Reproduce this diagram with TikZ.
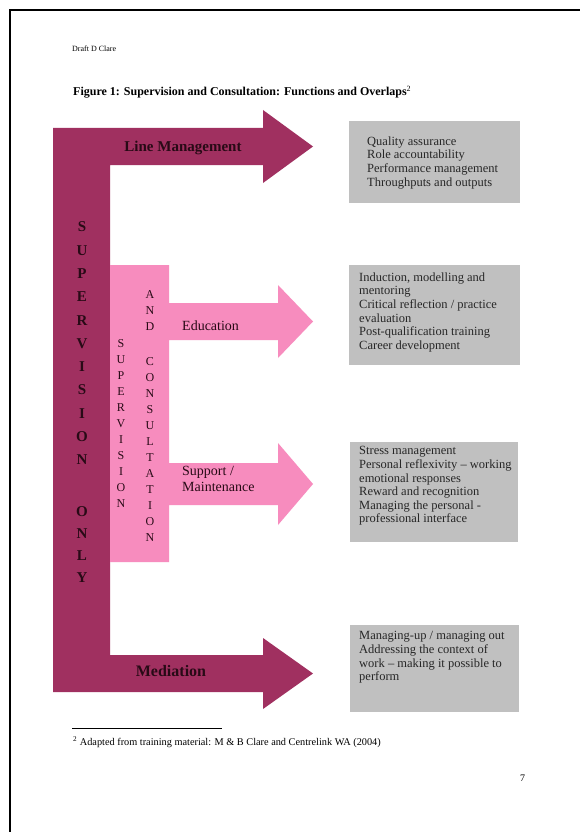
\documentclass[tikz,border=0pt]{standalone}
\usepackage{fontspec}
\setmainfont{Liberation Serif}
\definecolor{supmaroon}{RGB}{160,48,96}
\definecolor{suppink}{RGB}{247,140,190}
\definecolor{boxgray}{RGB}{192,192,192}
\definecolor{lettercol}{RGB}{40,10,22}
\begin{document}
\begin{tikzpicture}[x=1pt,y=-1pt,
  boxtext/.style={anchor=north west, inner sep=0pt, align=left, font=\fontsize{12.5}{13.6}\selectfont, text=black!85},
  graybox/.style={fill=boxgray, draw=none},
  bigletter/.style={font=\bfseries\fontsize{15}{15}\selectfont, text=lettercol, inner sep=0pt},
  smallletter/.style={font=\fontsize{12}{12}\selectfont, text=lettercol, inner sep=0pt},
  armlabel/.style={font=\fontsize{14}{16}\selectfont, text=lettercol, inner sep=0pt, align=left},
  boldlabel/.style={font=\bfseries\fontsize{15}{16}\selectfont, text=lettercol, inner sep=0pt}]
\useasboundingbox (0,0) rectangle (580,832);
\fill[white] (0,0) rectangle (580,832);
% page frame
\draw[line width=2pt] (10,832) -- (10,10) -- (580,10);

% header
\node[anchor=base west, inner sep=0pt, font=\fontsize{8}{9}\selectfont] (draft) at (72,52) {Draft D Clare};
\node[anchor=base west, inner sep=0pt, font=\bfseries\fontsize{12}{14}\selectfont] (title) at (73,96)
  {Figure 1: Supervision and Consultation: Functions and Overlaps\textsuperscript{\normalfont 2}};

% maroon L-shaped arrows (supervision only)
\fill[supmaroon] (53,128) -- (263,128) -- (263,110) -- (313,146.5) -- (263,183) -- (263,165)
  -- (110,165) -- (110,655) -- (263,655) -- (263,638) -- (313,673.5) -- (263,709) -- (263,692)
  -- (53,692) -- cycle;

% pink block with arrows (supervision and consultation)
\fill[suppink] (110,265) -- (169,265) -- (169,303) -- (278,303) -- (278,285) -- (313,321.5)
  -- (278,358) -- (278,340) -- (169,340) -- (169,463) -- (278,463) -- (278,443) -- (313,484)
  -- (278,525) -- (278,505) -- (169,505) -- (169,562) -- (110,562) -- cycle;

% arrow labels
\node[boldlabel] (lm) at (183,148) {Line Management};
\node[boldlabel, font=\bfseries\fontsize{16}{16}\selectfont] (med) at (171,671) {Mediation};
\node[armlabel, anchor=base west] (edu) at (182,330) {Education};
\node[armlabel, anchor=north west] (sup) at (182,466) {Support /\\Maintenance};

% vertical letters
\foreach \l/\yy [count=\i] in {S/227,U/250.3,P/273.6,E/296.9,R/320.2,V/343.5,I/366.8,S/390.1,I/413.4,O/436.7,N/460,O/512,N/534,L/556,Y/578}
  \node[bigletter] (so\i) at (82,\yy) {\l};
\foreach \l/\yy [count=\i] in {S/344,U/360,P/376,E/392,R/408,V/424,I/440,S/456,I/472,O/488,N/504}
  \node[smallletter] (sa\i) at (121,\yy) {\l};
\foreach \l/\yy [count=\i] in {A/295,N/311,D/327,C/362,O/378,N/394,S/410,U/426,L/442,T/458,A/474,T/490,I/506,O/522,N/538}
  \node[smallletter] (sc\i) at (150,\yy) {\l};

% gray boxes
\path[graybox] (349,121) rectangle (520,203);
\path[graybox] (349,265) rectangle (520,365);
\path[graybox] (350,442) rectangle (518,542);
\path[graybox] (350,625) rectangle (519,712);

\node[boxtext] (t1) at (367,136.5) {Quality assurance\\Role accountability\\Performance management\\Throughputs and outputs};
\node[boxtext] (t2) at (359,272.5) {Induction, modelling and\\mentoring\\Critical reflection / practice\\evaluation\\Post-qualification training\\Career development};
\node[boxtext] (t3) at (359,446.5) {Stress management\\Personal reflexivity -- working\\emotional responses\\Reward and recognition\\Managing the personal -\\professional interface};
\node[boxtext] (t4) at (359,631.5) {Managing-up / managing out\\Addressing the context of\\work -- making it possible to\\perform};

% footnote
\coordinate (fnl) at (72,728);
\coordinate (fnr) at (222,728);
\draw[line width=0.7pt] (fnl) -- (fnr);
\node[anchor=base west, inner sep=0pt, font=\fontsize{10.3}{12}\selectfont] (fn) at (73,745)
  {\textsuperscript{2} Adapted from training material: M \& B Clare and Centrelink WA (2004)};
\node[anchor=base west, inner sep=0pt, font=\fontsize{10}{12}\selectfont] (pg) at (520,781) {7};
\end{tikzpicture}
\end{document}
